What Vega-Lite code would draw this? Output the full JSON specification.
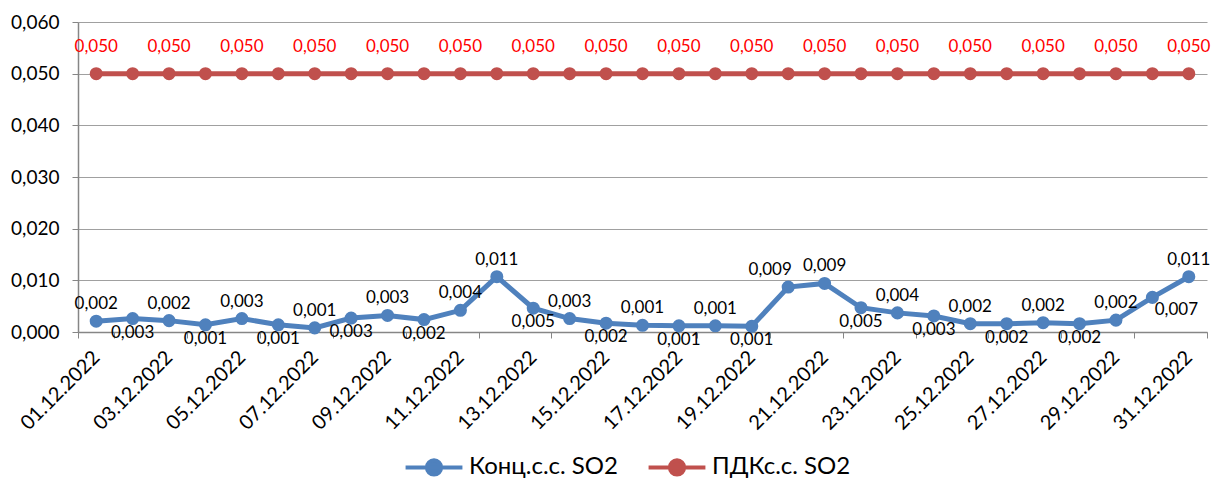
{
  "$schema": "https://vega.github.io/schema/vega-lite/v6.json",
  "width": 1129,
  "height": 310,
  "padding": {"left": 10, "top": 13, "right": 5, "bottom": 0},
  "background": "white",
  "config": {
    "locale": {"number": {"decimal": ",", "thousands": " ", "grouping": [3], "currency": ["", ""]}},
    "font": "Lato, 'Noto Sans', sans-serif",
    "view": {"stroke": null}
  },
  "data": {
    "values": [
      {"date": "01.12.2022", "series": "Конц.с.с. SO2", "value": 0.0021},
      {"date": "02.12.2022", "series": "Конц.с.с. SO2", "value": 0.0026},
      {"date": "03.12.2022", "series": "Конц.с.с. SO2", "value": 0.0022},
      {"date": "04.12.2022", "series": "Конц.с.с. SO2", "value": 0.0014},
      {"date": "05.12.2022", "series": "Конц.с.с. SO2", "value": 0.0026},
      {"date": "06.12.2022", "series": "Конц.с.с. SO2", "value": 0.0014},
      {"date": "07.12.2022", "series": "Конц.с.с. SO2", "value": 0.0008},
      {"date": "08.12.2022", "series": "Конц.с.с. SO2", "value": 0.0027},
      {"date": "09.12.2022", "series": "Конц.с.с. SO2", "value": 0.0032},
      {"date": "10.12.2022", "series": "Конц.с.с. SO2", "value": 0.0024},
      {"date": "11.12.2022", "series": "Конц.с.с. SO2", "value": 0.0042},
      {"date": "12.12.2022", "series": "Конц.с.с. SO2", "value": 0.0107},
      {"date": "13.12.2022", "series": "Конц.с.с. SO2", "value": 0.0046},
      {"date": "14.12.2022", "series": "Конц.с.с. SO2", "value": 0.0026},
      {"date": "15.12.2022", "series": "Конц.с.с. SO2", "value": 0.0017},
      {"date": "16.12.2022", "series": "Конц.с.с. SO2", "value": 0.0013},
      {"date": "17.12.2022", "series": "Конц.с.с. SO2", "value": 0.0012},
      {"date": "18.12.2022", "series": "Конц.с.с. SO2", "value": 0.0012},
      {"date": "19.12.2022", "series": "Конц.с.с. SO2", "value": 0.0011},
      {"date": "20.12.2022", "series": "Конц.с.с. SO2", "value": 0.0087},
      {"date": "21.12.2022", "series": "Конц.с.с. SO2", "value": 0.0094},
      {"date": "22.12.2022", "series": "Конц.с.с. SO2", "value": 0.0047},
      {"date": "23.12.2022", "series": "Конц.с.с. SO2", "value": 0.0037},
      {"date": "24.12.2022", "series": "Конц.с.с. SO2", "value": 0.0031},
      {"date": "25.12.2022", "series": "Конц.с.с. SO2", "value": 0.0016},
      {"date": "26.12.2022", "series": "Конц.с.с. SO2", "value": 0.0016},
      {"date": "27.12.2022", "series": "Конц.с.с. SO2", "value": 0.0018},
      {"date": "28.12.2022", "series": "Конц.с.с. SO2", "value": 0.0016},
      {"date": "29.12.2022", "series": "Конц.с.с. SO2", "value": 0.0023},
      {"date": "30.12.2022", "series": "Конц.с.с. SO2", "value": 0.0067},
      {"date": "31.12.2022", "series": "Конц.с.с. SO2", "value": 0.0107},
      {"date": "01.12.2022", "series": "ПДКс.с. SO2", "value": 0.05},
      {"date": "02.12.2022", "series": "ПДКс.с. SO2", "value": 0.05},
      {"date": "03.12.2022", "series": "ПДКс.с. SO2", "value": 0.05},
      {"date": "04.12.2022", "series": "ПДКс.с. SO2", "value": 0.05},
      {"date": "05.12.2022", "series": "ПДКс.с. SO2", "value": 0.05},
      {"date": "06.12.2022", "series": "ПДКс.с. SO2", "value": 0.05},
      {"date": "07.12.2022", "series": "ПДКс.с. SO2", "value": 0.05},
      {"date": "08.12.2022", "series": "ПДКс.с. SO2", "value": 0.05},
      {"date": "09.12.2022", "series": "ПДКс.с. SO2", "value": 0.05},
      {"date": "10.12.2022", "series": "ПДКс.с. SO2", "value": 0.05},
      {"date": "11.12.2022", "series": "ПДКс.с. SO2", "value": 0.05},
      {"date": "12.12.2022", "series": "ПДКс.с. SO2", "value": 0.05},
      {"date": "13.12.2022", "series": "ПДКс.с. SO2", "value": 0.05},
      {"date": "14.12.2022", "series": "ПДКс.с. SO2", "value": 0.05},
      {"date": "15.12.2022", "series": "ПДКс.с. SO2", "value": 0.05},
      {"date": "16.12.2022", "series": "ПДКс.с. SO2", "value": 0.05},
      {"date": "17.12.2022", "series": "ПДКс.с. SO2", "value": 0.05},
      {"date": "18.12.2022", "series": "ПДКс.с. SO2", "value": 0.05},
      {"date": "19.12.2022", "series": "ПДКс.с. SO2", "value": 0.05},
      {"date": "20.12.2022", "series": "ПДКс.с. SO2", "value": 0.05},
      {"date": "21.12.2022", "series": "ПДКс.с. SO2", "value": 0.05},
      {"date": "22.12.2022", "series": "ПДКс.с. SO2", "value": 0.05},
      {"date": "23.12.2022", "series": "ПДКс.с. SO2", "value": 0.05},
      {"date": "24.12.2022", "series": "ПДКс.с. SO2", "value": 0.05},
      {"date": "25.12.2022", "series": "ПДКс.с. SO2", "value": 0.05},
      {"date": "26.12.2022", "series": "ПДКс.с. SO2", "value": 0.05},
      {"date": "27.12.2022", "series": "ПДКс.с. SO2", "value": 0.05},
      {"date": "28.12.2022", "series": "ПДКс.с. SO2", "value": 0.05},
      {"date": "29.12.2022", "series": "ПДКс.с. SO2", "value": 0.05},
      {"date": "30.12.2022", "series": "ПДКс.с. SO2", "value": 0.05},
      {"date": "31.12.2022", "series": "ПДКс.с. SO2", "value": 0.05}
    ]
  },
  "encoding": {
    "x": {
      "field": "date", "type": "ordinal", "sort": null,
      "scale": {"type": "band", "paddingInner": 0, "paddingOuter": 0},
      "axis": {
        "title": null,
        "values": ["01.12.2022","03.12.2022","05.12.2022","07.12.2022","09.12.2022","11.12.2022","13.12.2022","15.12.2022","17.12.2022","19.12.2022","21.12.2022","23.12.2022","25.12.2022","27.12.2022","29.12.2022","31.12.2022"],
        "labelAngle": -45, "labelAlign": "right", "labelBaseline": "middle",
        "labelFontSize": 20, "labelColor": "#000000", "labelPadding": 16,
        "tickBand": "extent", "tickColor": "#868686", "tickSize": 6,
        "domainColor": "#868686", "domainWidth": 1.5, "grid": false
      }
    },
    "y": {
      "field": "value", "type": "quantitative",
      "scale": {"domain": [0, 0.06], "nice": false, "zero": true},
      "axis": {
        "title": null, "values": [0, 0.01, 0.02, 0.03, 0.04, 0.05, 0.06], "format": ".3f",
        "labelFontSize": 19, "labelColor": "#000000", "labelPadding": 13,
        "tickColor": "#868686", "tickSize": 6, "domainColor": "#868686", "domainWidth": 1.5,
        "gridColor": "#A0A0A0", "gridWidth": 1.2
      }
    }
  },
  "layer": [
    {
      "mark": {"type": "line", "strokeWidth": 5, "point": {"filled": true, "size": 170, "opacity": 1}},
      "encoding": {
        "color": {
          "field": "series", "type": "nominal",
          "scale": {"domain": ["Конц.с.с. SO2", "ПДКс.с. SO2"], "range": ["#4F81BD", "#C0504D"]},
          "legend": {
            "title": null, "orient": "none", "direction": "horizontal",
            "legendX": 344, "legendY": 433,
            "labelFontSize": 24, "labelColor": "#000000",
            "symbolType": "M-4,0H4M-1,0A1,1 0 1,0 1,0A1,1 0 1,0 -1,0Z",
            "symbolSize": 202, "symbolStrokeWidth": 4, "labelOffset": 23,
            "columnPadding": 21, "symbolOffset": 0,
            "encode": {"symbols": {"update": {"fill": {"scale": "color", "field": "value"}, "fillOpacity": {"value": 1}}}}
          }
        }
      }
    },
    {
      "transform": [
        {"filter": "datum.series == 'ПДКс.с. SO2'"},
        {"filter": {"field": "date", "oneOf": ["01.12.2022","03.12.2022","05.12.2022","07.12.2022","09.12.2022","11.12.2022","13.12.2022","15.12.2022","17.12.2022","19.12.2022","21.12.2022","23.12.2022","25.12.2022","27.12.2022","29.12.2022","31.12.2022"]}}
      ],
      "mark": {"type": "text", "dy": -27, "fontSize": 17, "color": "#FF0000", "baseline": "middle"},
      "encoding": {"text": {"field": "value", "type": "quantitative", "format": ".3f"}}
    },
    {
      "transform": [
        {"filter": "datum.series == 'Конц.с.с. SO2'"},
        {"filter": {"field": "date", "oneOf": ["01.12.2022","03.12.2022","05.12.2022","07.12.2022","09.12.2022","11.12.2022","12.12.2022","14.12.2022","16.12.2022","18.12.2022","21.12.2022","23.12.2022","25.12.2022","27.12.2022","29.12.2022","31.12.2022"]}}
      ],
      "mark": {"type": "text", "dy": -17, "fontSize": 17, "color": "#000000", "baseline": "middle"},
      "encoding": {"text": {"field": "value", "type": "quantitative", "format": ".3f"}}
    },
    {
      "transform": [
        {"filter": "datum.series == 'Конц.с.с. SO2'"},
        {"filter": {"field": "date", "oneOf": ["20.12.2022"]}}
      ],
      "mark": {"type": "text", "dy": -17, "dx": -18, "fontSize": 17, "color": "#000000", "baseline": "middle"},
      "encoding": {"text": {"field": "value", "type": "quantitative", "format": ".3f"}}
    },
    {
      "transform": [
        {"filter": "datum.series == 'Конц.с.с. SO2'"},
        {"filter": {"field": "date", "oneOf": ["02.12.2022","04.12.2022","06.12.2022","08.12.2022","10.12.2022","13.12.2022","15.12.2022","17.12.2022","19.12.2022","22.12.2022","24.12.2022","26.12.2022","28.12.2022"]}}
      ],
      "mark": {"type": "text", "dy": 14, "fontSize": 17, "color": "#000000", "baseline": "middle"},
      "encoding": {"text": {"field": "value", "type": "quantitative", "format": ".3f"}}
    },
    {
      "transform": [
        {"filter": "datum.series == 'Конц.с.с. SO2'"},
        {"filter": {"field": "date", "oneOf": ["30.12.2022"]}}
      ],
      "mark": {"type": "text", "dy": 13, "dx": 24, "fontSize": 17, "color": "#000000", "baseline": "middle"},
      "encoding": {"text": {"field": "value", "type": "quantitative", "format": ".3f"}}
    }
  ]
}
